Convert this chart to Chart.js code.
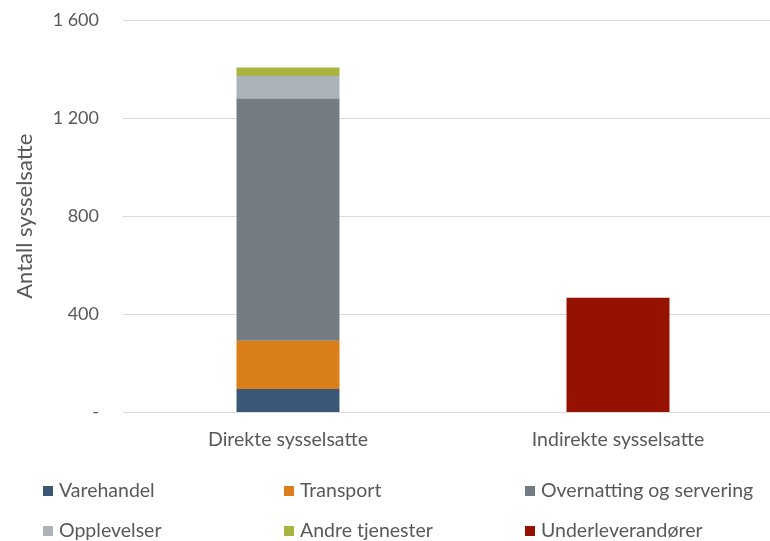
<!DOCTYPE html>
<html>
<head>
<meta charset="utf-8">
<script src="https://cdn.jsdelivr.net/npm/chart.js@4/dist/chart.umd.min.js"></script>
<style>
  html, body { margin: 0; padding: 0; overflow: hidden; background: #fff; width: 770px; height: 541px; }
  #wrap { width: 790px; height: 541px; position: relative; }
</style>
</head>
<body>
<div id="wrap"><canvas id="c"></canvas></div>
<script>
const categories = ['Direkte sysselsatte', 'Indirekte sysselsatte'];
const varehandel = [96, null];
const transport = [196, null];
const overnatting = [988, null];
const opplevelser = [92, null];
const andreTjenester = [34, null];
const underleverandorer = [null, 468];
const yTicks = [0, 400, 800, 1200, 1600];
const seriesNames = ['Varehandel', 'Transport', 'Overnatting og servering', 'Opplevelser', 'Andre tjenester', 'Underleverandører'];
const seriesColors = ['#3A5775', '#D97E18', '#737B83', '#ACB2B9', '#A8B43E', '#961200'];

const TEXT = '#595959';
const FONT = 'Lato, "Open Sans", sans-serif';

const seriesData = [varehandel, transport, overnatting, opplevelser, andreTjenester, underleverandorer];

const legendPlugin = {
  id: 'gridLegend',
  afterDraw(chart) {
    const ctx = chart.ctx;
    const colX = [43, 284, 525];
    const rowY = [491, 531];
    ctx.save();
    ctx.font = '19.5px ' + FONT;
    ctx.textBaseline = 'middle';
    ctx.textAlign = 'left';
    chart.data.datasets.forEach((ds, i) => {
      const x = colX[i % 3];
      const y = rowY[Math.floor(i / 3)];
      ctx.fillStyle = ds.backgroundColor;
      ctx.fillRect(x, y - 5, 10, 10);
      ctx.fillStyle = TEXT;
      ctx.fillText(ds.label, x + 16, y);
    });
    ctx.restore();
  }
};

new Chart(document.getElementById('c'), {
  type: 'bar',
  data: {
    labels: categories,
    datasets: seriesNames.map((name, i) => ({
      label: name,
      data: seriesData[i],
      backgroundColor: seriesColors[i],
      borderWidth: 0,
      barPercentage: 1,
      categoryPercentage: 0.312
    }))
  },
  options: {
    responsive: true,
    maintainAspectRatio: false,
    animation: false,
    layout: { padding: { left: 0, right: 7, top: 20, bottom: 78.5 } },
    plugins: {
      legend: { display: false },
      tooltip: { enabled: false }
    },
    scales: {
      x: {
        stacked: true,
        grid: { display: false, drawTicks: false },
        border: { display: true, color: '#D9D9D9', width: 1 },
        ticks: { color: TEXT, font: { family: FONT, size: 19.5 }, padding: 16, maxRotation: 0 },
        afterFit(scale) { scale.height = 50; scale.paddingLeft = 0; scale.paddingRight = 0; }
      },
      y: {
        stacked: true,
        min: 0,
        max: 1600,
        afterBuildTicks(scale) { scale.ticks = yTicks.map(v => ({ value: v })); },
        grid: { color: '#D9D9D9', lineWidth: 1, drawTicks: false },
        border: { display: false },
        ticks: {
          color: TEXT,
          font: { family: FONT, size: 18 },
          padding: 24,
          callback(v) {
            if (v === 0) return '-';
            return String(v).replace(/\B(?=(\d{3})+(?!\d))/g, ' ');
          }
        },
        title: {
          display: true,
          text: 'Antall sysselsatte',
          color: TEXT,
          font: { family: FONT, size: 22 },
          padding: { top: 12, bottom: 0 }
        },
        afterFit(scale) { scale.width = 123; scale.paddingTop = 0; scale.paddingBottom = 0; }
      }
    }
  },
  plugins: [legendPlugin]
});
</script>
</body>
</html>
